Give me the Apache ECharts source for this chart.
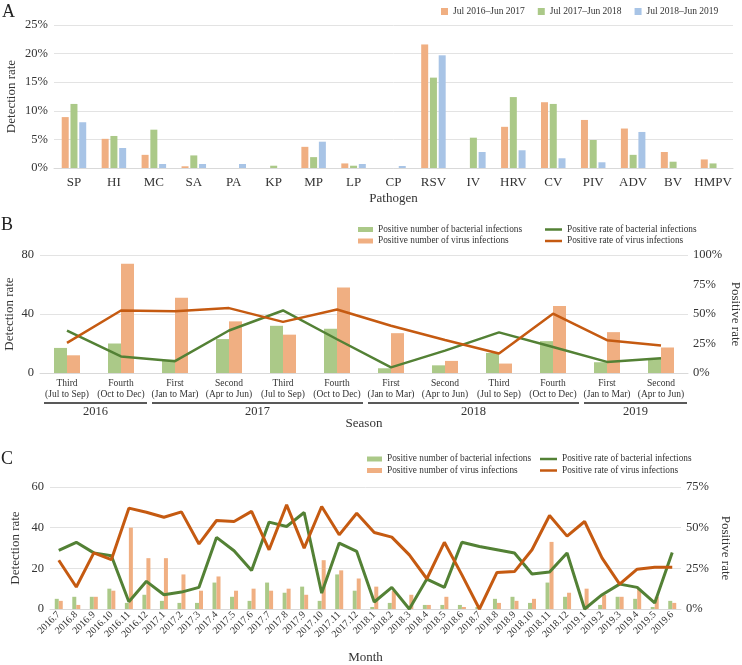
<!DOCTYPE html>
<html>
<head>
<meta charset="utf-8">
<script src="https://cdn.jsdelivr.net/npm/echarts@6/dist/echarts.min.js"></script>
<style>
html, body { margin: 0; padding: 0; background: #fff; }
#main { width: 742px; height: 665px; }
</style>
</head>
<body>
<div id="main"></div>
<script>
// panel A: detection rate per pathogen (%)
var pathogens = ['SP', 'HI', 'MC', 'SA', 'PA', 'KP', 'MP', 'LP', 'CP', 'RSV', 'IV', 'HRV', 'CV', 'PIV', 'ADV', 'BV', 'HMPV'];
var yearNames = ['Jul 2016–Jun 2017', 'Jul 2017–Jun 2018', 'Jul 2018–Jun 2019'];
var rate1617 = [8.9, 5.1, 2.3, 0.3, 0, 0, 3.7, 0.8, 0, 21.6, 0, 7.2, 11.5, 8.4, 6.9, 2.8, 1.5];
var rate1718 = [11.2, 5.6, 6.7, 2.2, 0, 0.4, 1.9, 0.4, 0, 15.8, 5.3, 12.4, 11.2, 4.9, 2.3, 1.1, 0.8];
var rate1819 = [8.0, 3.5, 0.7, 0.7, 0.7, 0, 4.6, 0.7, 0.35, 19.7, 2.8, 3.1, 1.7, 1.0, 6.3, 0, 0];

// panel B: by season
var seasons = ['Third\n(Jul to Sep)', 'Fourth\n(Oct to Dec)', 'First\n(Jan to Mar)', 'Second\n(Apr to Jun)',
  'Third\n(Jul to Sep)', 'Fourth\n(Oct to Dec)', 'First\n(Jan to Mar)', 'Second\n(Apr to Jun)',
  'Third\n(Jul to Sep)', 'Fourth\n(Oct to Dec)', 'First\n(Jan to Mar)', 'Second\n(Apr to Jun)'];
var seasonYears = [['2016', 0, 1], ['2017', 2, 5], ['2018', 6, 9], ['2019', 10, 11]];
var seasonBact = [17, 20, 9, 23, 32, 30, 3.2, 5.2, 13.6, 21.6, 7.3, 9.5];
var seasonVirus = [12, 74, 51, 35, 26, 58, 27, 8.2, 6.4, 45.5, 27.7, 17.3];
var seasonBactRate = [36, 14, 10, 36, 53, 28.6, 4.8, 19, 34.4, 22, 9.4, 12.5];
var seasonVirusRate = [25.5, 53, 52.4, 55, 43.3, 53.8, 40, 28, 16.5, 50.3, 27.8, 23.3];

// panel C: by month
var months = ['2016.7', '2016.8', '2016.9', '2016.10', '2016.11', '2016.12',
  '2017.1', '2017.2', '2017.3', '2017.4', '2017.5', '2017.6', '2017.7', '2017.8', '2017.9', '2017.10', '2017.11', '2017.12',
  '2018.1', '2018.2', '2018.3', '2018.4', '2018.5', '2018.6', '2018.7', '2018.8', '2018.9', '2018.10', '2018.11', '2018.12',
  '2019.1', '2019.2', '2019.3', '2019.4', '2019.5', '2019.6'];
var monthBact = [5, 6, 6, 10, 3, 7, 4, 3, 3, 13, 6, 4, 13, 8, 11, 4, 17, 9, 1, 3, 0, 2, 2, 2, 1, 5, 6, 3, 13, 6, 0, 2, 6, 5, 1, 4];
var monthVirus = [4, 2, 6, 9, 40, 25, 25, 17, 9, 16, 9, 10, 9, 10, 7, 24, 19, 15, 11, 9, 7, 2, 6, 1, 0, 3, 4, 5, 33, 8, 10, 7, 6, 10, 6, 3];
var monthBactRate = [36, 41, 34.5, 32.7, 4.5, 17, 8.8, 10.4, 13.3, 44, 35.8, 23.7, 53.4, 50.7, 59.3, 9.8, 40.5, 35.4,
  4.3, 13.3, 0, 18.4, 13.3, 41, 38.4, 36.4, 34.4, 21.5, 22.7, 34.4, 0, 8.8, 15.3, 13.3, 3.7, 34.8];
var monthVirusRate = [30, 13.5, 34.5, 30.3, 62, 59.5, 56.4, 59.7, 40, 54.4, 53.8, 60, 36.4, 64, 37.4, 63, 45.6, 58.9,
  47, 44.2, 33.3, 18.6, 41, 21, 0, 22.5, 23, 36.4, 57.5, 44.8, 53.8, 31.3, 15.3, 24.5, 25.6, 25.6];

var nBact = 'Positive number of bacterial infections';
var nVirus = 'Positive number of virus infections';
var nBactRate = 'Positive rate of bacterial infections';
var nVirusRate = 'Positive rate of virus infections';

var FONT = 'Liberation Serif';
var TXT = '#333';
var cOrange = '#F0AF82', cGreen = '#ABC988', cBlue = '#A8C4E6';
var lGreen = '#538135', lOrange = '#C55A11';

var chart = echarts.init(document.getElementById('main'));

function yAx(grid, max, step, fmt, name, gap, right) {
  return {
    type: 'value', gridIndex: grid, min: 0, max: max, interval: step,
    position: right ? 'right' : 'left',
    name: name, nameLocation: 'middle', nameGap: gap, nameRotate: right ? -90 : null,
    nameMoveOverlap: false,
    nameTextStyle: { fontFamily: FONT, fontSize: 13, color: TXT },
    axisLine: { show: false }, axisTick: { show: false },
    axisLabel: { fontFamily: FONT, fontSize: 12.5, color: TXT, formatter: fmt, margin: right ? 5 : 6 },
    splitLine: { show: !right, lineStyle: { color: '#E3E3E3' } }
  };
}

function xAx(grid, data, name, gap, label) {
  return {
    type: 'category', gridIndex: grid, data: data,
    name: name, nameLocation: 'middle', nameGap: gap,
    nameTextStyle: { fontFamily: FONT, fontSize: 13, color: TXT },
    axisLine: { lineStyle: { color: '#D9D9D9' } }, axisTick: { show: false },
    axisLabel: label
  };
}

function legendCol(names, left, top, w, h) {
  return { data: names, orient: 'vertical', left: left, top: top, itemWidth: w, itemHeight: h, itemGap: 2.5, icon: 'rect',
    textStyle: { fontFamily: FONT, fontSize: 9.3, color: TXT } };
}

var option = {
  backgroundColor: '#fff',
  animation: false,
  grid: [
    { left: 54, right: 9, top: 25, height: 143, outerBoundsMode: 'none' },
    { left: 40, right: 54, top: 255, height: 118, outerBoundsMode: 'none' },
    { left: 50, right: 61, top: 487, height: 122, outerBoundsMode: 'none' }
  ],
  legend: [
    { data: yearNames, left: 436, top: 1.5, itemWidth: 7, itemHeight: 7, itemGap: 13, icon: 'rect',
      textStyle: { fontFamily: FONT, fontSize: 9.5, color: TXT } },
    legendCol([nBact, nVirus], 353, 220, 15, 5),
    legendCol([nBactRate, nVirusRate], 540, 220, 17, 2.5),
    legendCol([nBact, nVirus], 362, 449.5, 15, 5),
    legendCol([nBactRate, nVirusRate], 535, 449.5, 17, 2.5)
  ],
  xAxis: [
    xAx(0, pathogens, 'Pathogen', 24, { interval: 0, fontFamily: FONT, fontSize: 13, color: TXT, margin: 8 }),
    xAx(1, seasons, 'Season', 44, { interval: 0, fontFamily: FONT, fontSize: 9.5, lineHeight: 11, color: TXT, margin: 5 }),
    xAx(2, months, 'Month', 42, { interval: 0, rotate: 45, fontFamily: FONT, fontSize: 10, color: TXT, margin: 4 })
  ],
  yAxis: [
    yAx(0, 25, 5, '{value}%', 'Detection rate', 35.5, false),
    yAx(1, 80, 40, '{value}', 'Detection rate', 23.5, false),
    yAx(1, 100, 25, '{value}%', 'Positive rate', 41, true),
    yAx(2, 60, 20, '{value}', 'Detection rate', 27.5, false),
    yAx(2, 75, 25, '{value}%', 'Positive rate', 38, true)
  ],
  series: [
    { name: yearNames[0], type: 'bar', xAxisIndex: 0, yAxisIndex: 0, data: rate1617, barWidth: 7, barGap: '25%', itemStyle: { color: cOrange } },
    { name: yearNames[1], type: 'bar', xAxisIndex: 0, yAxisIndex: 0, data: rate1718, barWidth: 7, barGap: '25%', itemStyle: { color: cGreen } },
    { name: yearNames[2], type: 'bar', xAxisIndex: 0, yAxisIndex: 0, data: rate1819, barWidth: 7, barGap: '25%', itemStyle: { color: cBlue } },

    { name: nBact, type: 'bar', xAxisIndex: 1, yAxisIndex: 1, data: seasonBact, barWidth: 13, barGap: '0%', itemStyle: { color: cGreen } },
    { name: nVirus, type: 'bar', xAxisIndex: 1, yAxisIndex: 1, data: seasonVirus, barWidth: 13, barGap: '0%', itemStyle: { color: cOrange } },
    { name: nBactRate, type: 'line', xAxisIndex: 1, yAxisIndex: 2, data: seasonBactRate, showSymbol: false,
      lineStyle: { color: lGreen, width: 2.5 }, itemStyle: { color: lGreen } },
    { name: nVirusRate, type: 'line', xAxisIndex: 1, yAxisIndex: 2, data: seasonVirusRate, showSymbol: false,
      lineStyle: { color: lOrange, width: 2.5 }, itemStyle: { color: lOrange } },

    { name: nBact, type: 'bar', xAxisIndex: 2, yAxisIndex: 3, data: monthBact, barWidth: 4, barGap: '0%', itemStyle: { color: cGreen } },
    { name: nVirus, type: 'bar', xAxisIndex: 2, yAxisIndex: 3, data: monthVirus, barWidth: 4, barGap: '0%', itemStyle: { color: cOrange } },
    { name: nBactRate, type: 'line', xAxisIndex: 2, yAxisIndex: 4, data: monthBactRate, showSymbol: false,
      lineStyle: { color: lGreen, width: 3 }, itemStyle: { color: lGreen } },
    { name: nVirusRate, type: 'line', xAxisIndex: 2, yAxisIndex: 4, data: monthVirusRate, showSymbol: false,
      lineStyle: { color: lOrange, width: 3 }, itemStyle: { color: lOrange } }
  ]
};

chart.setOption(option);

// panel letters + year brackets under the season axis
var gfx = [];
[['A', 2, 3], ['B', 1, 216], ['C', 1, 450]].forEach(function (p) {
  gfx.push({ type: 'text', x: p[1], y: p[2], style: { text: p[0], fontFamily: FONT, fontSize: 18, fill: '#222' } });
});
var step = chart.convertToPixel({ xAxisIndex: 1 }, 1) - chart.convertToPixel({ xAxisIndex: 1 }, 0);
var yBase = chart.convertToPixel({ yAxisIndex: 1 }, 0);
seasonYears.forEach(function (g) {
  var x0 = chart.convertToPixel({ xAxisIndex: 1 }, g[1]) - step / 2 + 4;
  var x1 = chart.convertToPixel({ xAxisIndex: 1 }, g[2]) + step / 2 - 1;
  var y = yBase + 30;
  gfx.push({ type: 'line', shape: { x1: x0, y1: y, x2: x1, y2: y }, style: { stroke: '#222', lineWidth: 1.3 } });
  gfx.push({ type: 'text', x: (x0 + x1) / 2, y: y + 9,
    style: { text: g[0], fontFamily: FONT, fontSize: 12.5, fill: TXT, align: 'center', verticalAlign: 'middle' } });
});
chart.setOption({ graphic: gfx });
</script>
</body>
</html>
